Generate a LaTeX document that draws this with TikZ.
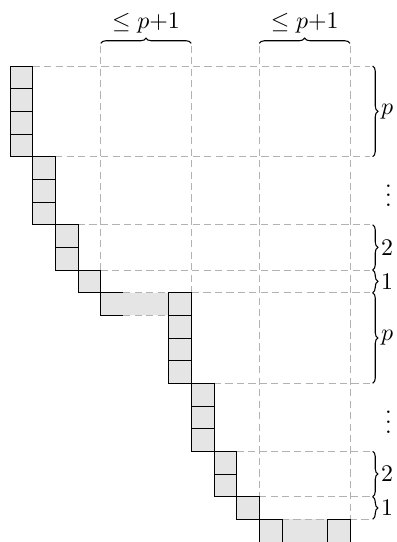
\documentclass[tikz,border=0pt]{standalone}
\usetikzlibrary{decorations.pathreplacing}
\begin{document}
\begin{tikzpicture}[x=9.5pt,y=9.5pt,
  cellbox/.style={fill=gray!20,draw=black,line width=0.4pt},
  solidedge/.style={draw=black,line width=0.4pt},
  cellfill/.style={fill=gray!20},
  guide/.style={draw=black!30,dash pattern=on 3pt off 1.8pt,line width=0.4pt},
  bracedec/.style={decorate,decoration={brace,amplitude=2.2pt},line width=0.45pt},
  toplabel/.style={anchor=south,yshift=2.2pt,inner sep=2pt},
  sidelabel/.style={anchor=west,xshift=2.2pt,inner sep=1.2pt},
]
\useasboundingbox (-0.441,-21) rectangle (17.073,2.912);
% fills of the two bars
\fill[cellfill] (4,-10) rectangle (7,-11);
\fill[cellfill] (11,-20) rectangle (15,-21);
% dashed guides
\draw[guide] (1,0) -- (15.9,0);
\draw[guide] (2,-4) -- (15.9,-4);
\draw[guide] (3,-7) -- (15.9,-7);
\draw[guide] (4,-9) -- (15.9,-9);
\draw[guide] (5,-10) -- (15.9,-10);
\draw[guide] (5,-11) -- (7,-11);
\draw[guide] (9,-14) -- (15.9,-14);
\draw[guide] (10,-17) -- (15.9,-17);
\draw[guide] (11,-19) -- (15.9,-19);
\draw[guide] (12,-20) -- (14,-20);
\draw[guide] (15,-20) -- (15.9,-20);
\draw[guide] (4,0.9) -- (4,-9);
\draw[guide] (8,0.9) -- (8,-10);
\draw[guide] (11,0.9) -- (11,-20);
\draw[guide] (15,0.9) -- (15,-20);
% staircase cells
\foreach \cx/\cy in {0/0,0/1,0/2,0/3,1/4,1/5,1/6,2/7,2/8,3/9,7/10,7/11,7/12,7/13,8/14,8/15,8/16,9/17,9/18,10/19}
  \draw[cellbox] (\cx,-\cy) rectangle ++(1,-1);
% open cell of first bar
\draw[solidedge] (5,-10) -- (4,-10) -- (4,-11) -- (5,-11);
% bottom row cells (cut at the edge)
\draw[solidedge] (11,-21) -- (11,-20) -- (12,-20) -- (12,-21);
\draw[solidedge] (14,-21) -- (14,-20) -- (15,-20) -- (15,-21);
% top braces
\draw[bracedec] (4,1) -- (8,1);
\node[toplabel] (tA) at (6,1) {$\leq p{+}1$};
\draw[bracedec] (11,1) -- (15,1);
\node[toplabel] (tB) at (13,1) {$\leq p{+}1$};
% right braces
\draw[bracedec] (16,0) -- (16,-4);
\node[sidelabel] (rA) at (16,-2) {$p$};
\node (dA) at (16.7,-5.4) {$\vdots$};
\draw[bracedec] (16,-7) -- (16,-9);
\node[sidelabel] (rB) at (16,-8) {$2$};
\draw[bracedec] (16,-9) -- (16,-10);
\node[sidelabel] (rC) at (16,-9.5) {$1$};
\draw[bracedec] (16,-10) -- (16,-14);
\node[sidelabel] (rD) at (16,-12) {$p$};
\node (dB) at (16.7,-15.4) {$\vdots$};
\draw[bracedec] (16,-17) -- (16,-19);
\node[sidelabel] (rE) at (16,-18) {$2$};
\draw[bracedec] (16,-19) -- (16,-20);
\node[sidelabel] (rF) at (16,-19.5) {$1$};
\end{tikzpicture}
\end{document}
